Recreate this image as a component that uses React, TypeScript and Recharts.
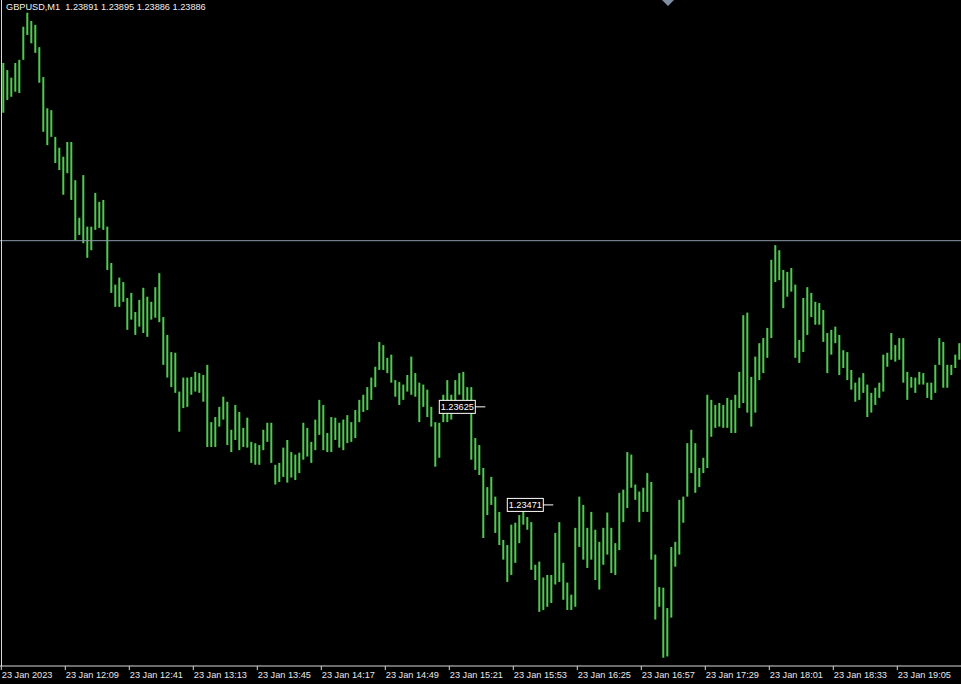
import { ComposedChart, Bar, XAxis, YAxis, ReferenceLine, ReferenceDot } from "recharts";

// GBPUSD M1, 23 Jan 2023, 11:37 onwards; values grouped two minutes per bar
const symbol = "GBPUSD,M1";
const lastQuote = ["1.23891", "1.23895", "1.23886", "1.23886"];
const bidPrice = 1.23886;
const startHour = 11;
const startMinute = 37;
const tickMinutes = [0, 32, 64, 96, 128, 160, 192, 224, 256, 288, 320, 352, 384, 416, 448];

const highs = [
  1.24165, 1.24154, 1.24142, 1.24165, 1.2417, 1.24222, 1.24244, 1.24231, 1.24225, 1.2419,
  1.24143, 1.24094, 1.24091, 1.24049, 1.24032, 1.24018, 1.24041, 1.24041, 1.23981, 1.23922,
  1.23989, 1.23908, 1.23908, 1.23961, 1.23947, 1.2395, 1.23908, 1.23851, 1.23817, 1.23828,
  1.23821, 1.23796, 1.23804, 1.23774, 1.23793, 1.23812, 1.23798, 1.2379, 1.23813, 1.23835,
  1.23766, 1.23738, 1.23711, 1.2371, 1.23649, 1.23671, 1.23671, 1.23672, 1.2368, 1.23678,
  1.23675, 1.23691, 1.23601, 1.23609, 1.23625, 1.23641, 1.23633, 1.23589, 1.23628, 1.23617,
  1.23592, 1.23608, 1.2357, 1.23568, 1.23565, 1.23589, 1.236, 1.236, 1.23534, 1.23537,
  1.23561, 1.23573, 1.23554, 1.2355, 1.23553, 1.236, 1.23592, 1.2357, 1.23605, 1.23636,
  1.23628, 1.23584, 1.23609, 1.23608, 1.236, 1.23605, 1.23612, 1.23601, 1.2362, 1.23636,
  1.23644, 1.23656, 1.23671, 1.23688, 1.23727, 1.23722, 1.23702, 1.23707, 1.23667, 1.23664,
  1.2366, 1.23675, 1.23704, 1.23678, 1.23663, 1.2366, 1.23652, 1.23625, 1.23601, 1.236,
  1.23644, 1.23667, 1.23644, 1.23667, 1.23678, 1.2368, 1.23656, 1.23656, 1.23576, 1.23565,
  1.23529, 1.23499, 1.23515, 1.23484, 1.2346, 1.23416, 1.23408, 1.2344, 1.23443, 1.23455,
  1.23471, 1.23452, 1.23444, 1.23377, 1.23382, 1.23357, 1.23361, 1.23361, 1.23427, 1.23444,
  1.2338, 1.23349, 1.2333, 1.23435, 1.23484, 1.23471, 1.23435, 1.2346, 1.23432, 1.23413,
  1.23435, 1.23459, 1.23435, 1.23411, 1.2349, 1.23495, 1.23554, 1.2355, 1.23503, 1.23492,
  1.23498, 1.23521, 1.23507, 1.23393, 1.23342, 1.23341, 1.23309, 1.23405, 1.23413, 1.23479,
  1.23484, 1.23568, 1.23589, 1.23568, 1.23529, 1.23545, 1.23644, 1.23636, 1.23628, 1.23631,
  1.23628, 1.23639, 1.23636, 1.23644, 1.2368, 1.23769, 1.23773, 1.23672, 1.23704, 1.23725,
  1.23733, 1.23749, 1.23856, 1.23879, 1.23871, 1.2384, 1.23837, 1.23843, 1.23817, 1.2373,
  1.23796, 1.23813, 1.23804, 1.2379, 1.23788, 1.23777, 1.23741, 1.23746, 1.23751, 1.23738,
  1.23714, 1.23711, 1.23683, 1.23663, 1.23671, 1.23678, 1.2366, 1.23647, 1.23655, 1.23663,
  1.23707, 1.2371, 1.23741, 1.23722, 1.23733, 1.23733, 1.2368, 1.23672, 1.23671, 1.2368,
  1.23678, 1.23663, 1.23663, 1.23691, 1.23733, 1.23727, 1.23691, 1.23691, 1.23707, 1.23725,
];

const lows = [
  1.24087, 1.24107, 1.24112, 1.2412, 1.24118, 1.2417, 1.24209, 1.24196, 1.24181, 1.24134,
  1.24057, 1.24036, 1.24049, 1.24008, 1.23997, 1.23958, 1.23992, 1.2395, 1.23887, 1.23895,
  1.23882, 1.23859, 1.23871, 1.23903, 1.23906, 1.23903, 1.2384, 1.23804, 1.23782, 1.23782,
  1.2379, 1.23746, 1.23762, 1.23738, 1.23751, 1.23741, 1.23735, 1.23762, 1.23765, 1.23758,
  1.23691, 1.23671, 1.23656, 1.23647, 1.23586, 1.23623, 1.23625, 1.23644, 1.23649, 1.23647,
  1.23633, 1.23562, 1.23562, 1.23562, 1.23594, 1.23605, 1.23565, 1.23554, 1.23573, 1.23557,
  1.23562, 1.23561, 1.23537, 1.23534, 1.23534, 1.23557, 1.2357, 1.23537, 1.23503, 1.23507,
  1.23515, 1.23506, 1.23514, 1.2351, 1.23521, 1.23542, 1.23547, 1.23537, 1.23557, 1.23581,
  1.23557, 1.23554, 1.23554, 1.23573, 1.23561, 1.23557, 1.23568, 1.2357, 1.23576, 1.23601,
  1.23617, 1.2362, 1.23636, 1.23656, 1.23683, 1.23683, 1.23678, 1.23663, 1.23641, 1.23628,
  1.23636, 1.23649, 1.23644, 1.23641, 1.23601, 1.23625, 1.23609, 1.23594, 1.23531, 1.23545,
  1.23601, 1.23601, 1.23605, 1.23616, 1.23644, 1.23636, 1.23623, 1.23542, 1.23526, 1.23518,
  1.23419, 1.23455, 1.23471, 1.23427, 1.23408, 1.23385, 1.2335, 1.23361, 1.2338, 1.23411,
  1.2344, 1.23432, 1.23369, 1.23353, 1.23303, 1.23306, 1.23311, 1.23317, 1.23346, 1.2335,
  1.23322, 1.23306, 1.23306, 1.23311, 1.23405, 1.23385, 1.23372, 1.23385, 1.23353, 1.23338,
  1.23377, 1.23393, 1.23364, 1.23361, 1.234, 1.23444, 1.23466, 1.23498, 1.23479, 1.23444,
  1.2346, 1.2346, 1.23385, 1.23291, 1.23311, 1.23231, 1.23233, 1.23294, 1.23374, 1.23393,
  1.23443, 1.23484, 1.23521, 1.2349, 1.23499, 1.23521, 1.23529, 1.23578, 1.23592, 1.23594,
  1.23592, 1.23592, 1.23584, 1.23584, 1.23623, 1.23631, 1.23616, 1.23594, 1.23616, 1.23667,
  1.23678, 1.23702, 1.23733, 1.23821, 1.23824, 1.2378, 1.23798, 1.23806, 1.23702, 1.23694,
  1.23711, 1.23738, 1.23766, 1.23754, 1.23754, 1.23727, 1.23678, 1.23707, 1.23725, 1.23675,
  1.23686, 1.23667, 1.23652, 1.23633, 1.23636, 1.23647, 1.23609, 1.23616, 1.23628, 1.23639,
  1.23649, 1.23688, 1.23699, 1.23696, 1.23699, 1.23663, 1.23636, 1.23655, 1.23647, 1.2366,
  1.2366, 1.23639, 1.23636, 1.23647, 1.23691, 1.23655, 1.23655, 1.23675, 1.23686, 1.23699,
];

// price labels left on the chart (minute offset, price)
const tagMinutes = [242, 276];
const tagPrices = [1.23625, 1.23471];

const data = highs.map((h, i) => ({ t: 2 * i + 1, range: [lows[i], h] }));

const font = "'Liberation Sans', Arial, sans-serif";
const barColor = "#52c952";

function fmtTime(m: number) {
  if (m === 0) return "23 Jan 2023";
  const total = startHour * 60 + startMinute + m;
  const hh = String(Math.floor(total / 60)).padStart(2, "0");
  const mm = String(total % 60).padStart(2, "0");
  return `23 Jan ${hh}:${mm}`;
}

const TimeTick = (props: any) => {
  const { x, y, payload } = props;
  return (
    <text x={x + 0.5} y={y + 8} fill="#e8e8e8" fontSize={9.2} fontFamily={font} textAnchor="start">
      {fmtTime(payload.value)}
    </text>
  );
};

const PriceTag = (props: any) => {
  const { cx, cy, text } = props;
  return (
    <g>
      <rect x={cx - 46} y={cy - 6.5} width={36} height={13} fill="#000" stroke="#fff" strokeWidth={1} />
      <line x1={cx - 10} x2={cx} y1={cy} y2={cy} stroke="#fff" strokeWidth={1} />
      <text x={cx - 28} y={cy + 3.5} fill="#fff" fontSize={9.2} fontFamily={font} textAnchor="middle">
        {text}
      </text>
    </g>
  );
};

export default function App() {
  return (
    <div style={{ position: "relative", width: 961, height: 684, background: "#000" }}>
      <style>{"body{margin:0;background:#000}"}</style>
      <ComposedChart width={961} height={684} data={data} margin={{ top: 0, right: 0, bottom: 0, left: 0 }}>
        <XAxis
          dataKey="t"
          type="number"
          domain={[-0.65, 479.85]}
          allowDataOverflow
          ticks={tickMinutes}
          interval={0}
          height={18}
          tickSize={4}
          tickMargin={0}
          axisLine={{ stroke: "#d8d8d8" }}
          tickLine={{ stroke: "#d8d8d8" }}
          tick={<TimeTick />}
        />
        <YAxis hide domain={[1.23218, 1.24264]} allowDataOverflow />
        <Bar dataKey="range" barSize={2} fill={barColor} isAnimationActive={false} />
        <ReferenceLine y={bidPrice} stroke="#8c9aab" strokeWidth={1} />
        {tagMinutes.map((m, i) => (
          <ReferenceDot
            key={m}
            x={m}
            y={tagPrices[i]}
            r={0}
            shape={(p: any) => <PriceTag {...p} text={tagPrices[i].toFixed(5)} />}
          />
        ))}
      </ComposedChart>
      <svg
        width={961}
        height={684}
        style={{ position: "absolute", left: 0, top: 0, pointerEvents: "none" }}
      >
        <line x1={1.5} x2={1.5} y1={0} y2={666} stroke="#d8d8d8" strokeWidth={1} />
        <polygon points="662,0 674,0 668,6" fill="#7f8ea3" />
        <text x={6} y={10} fill="#f0f0f0" fontSize={9.2} fontFamily={font}>
          {symbol}
          {"\u00a0\u00a0" + lastQuote.join(" ")}
        </text>
      </svg>
    </div>
  );
}
